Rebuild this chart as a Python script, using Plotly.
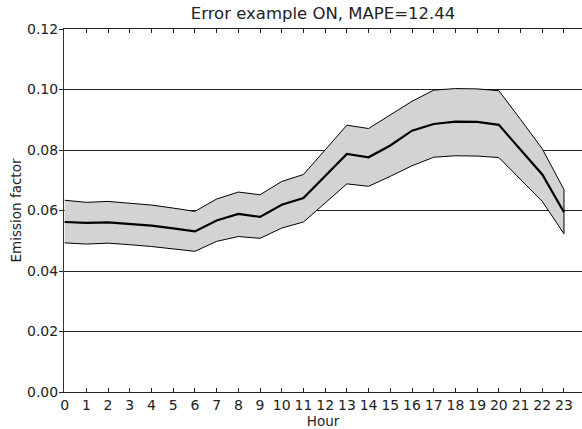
import plotly.graph_objects as go

hours = list(range(24))
mean_vals = [0.0562, 0.0559, 0.0561, 0.0556, 0.0550, 0.0541, 0.0531, 0.0567, 0.0589, 0.0579,
             0.0619, 0.0641, 0.0715, 0.0787, 0.0776, 0.0815, 0.0864, 0.0886, 0.0894, 0.0893,
             0.0883, 0.0801, 0.0719, 0.0594]
upper_vals = [0.0634, 0.0627, 0.0630, 0.0625, 0.0618, 0.0608, 0.0597, 0.0638, 0.0661, 0.0652,
              0.0696, 0.0719, 0.0801, 0.0882, 0.0871, 0.0915, 0.0961, 0.0998, 0.1003, 0.1002,
              0.0996, 0.0901, 0.0804, 0.0669]
lower_vals = [0.0493, 0.0489, 0.0492, 0.0487, 0.0481, 0.0474, 0.0465, 0.0498, 0.0514, 0.0508,
              0.0542, 0.0562, 0.0624, 0.0688, 0.0680, 0.0713, 0.0748, 0.0776, 0.0781, 0.0780,
              0.0775, 0.0702, 0.0630, 0.0523]
y_ticks = [0.00, 0.02, 0.04, 0.06, 0.08, 0.10, 0.12]
title_text = "Error example ON, MAPE=12.44"

FONT = "DejaVu Sans, Verdana, sans-serif"

fig = go.Figure()
# shaded band: fill between lower and upper, outlined on top, bottom and right end
fig.add_trace(go.Scatter(
    x=hours + hours[::-1],
    y=upper_vals + lower_vals[::-1],
    mode="lines", fill="toself", fillcolor="#d3d3d3",
    line=dict(color="black", width=1), hoverinfo="skip", showlegend=False))
fig.add_trace(go.Scatter(x=hours, y=mean_vals, mode="lines",
                         line=dict(color="black", width=2.2), showlegend=False))

fig.update_layout(
    width=582, height=429,
    margin=dict(l=64, r=0, t=29, b=37),
    paper_bgcolor="white", plot_bgcolor="white",
    font=dict(family=FONT, size=14, color="#222"),
    title=dict(text=title_text, x=(64 + 582) / 2 / 582, xref="container", xanchor="center",
               y=1 - 19 / 429, yref="container", yanchor="bottom",
               font=dict(size=16.5, color="#222")),
)
fig.update_xaxes(
    range=[-0.03, 23.83], tickmode="array", tickvals=hours, ticktext=[str(h) for h in hours],
    ticks="inside", ticklen=4, tickcolor="#222", mirror="ticks", showline=True,
    linecolor="#222", linewidth=1, showgrid=False, zeroline=False,
    title=dict(text="Hour", standoff=2, font=dict(size=13.5)),
    tickfont=dict(size=14))
fig.update_yaxes(
    range=[0, 0.12], tickmode="array", tickvals=y_ticks, ticktext=[f"{v:.2f}" for v in y_ticks],
    ticks="outside", ticklen=4, tickcolor="#222", showline=True, linecolor="#333", linewidth=1,
    ticklabelstandoff=-2,
    showgrid=True, gridcolor="#222", gridwidth=1, zeroline=False,
    title=dict(text="Emission factor", standoff=2, font=dict(size=13.5)),
    tickfont=dict(size=14))

fig.write_html("out.html")
